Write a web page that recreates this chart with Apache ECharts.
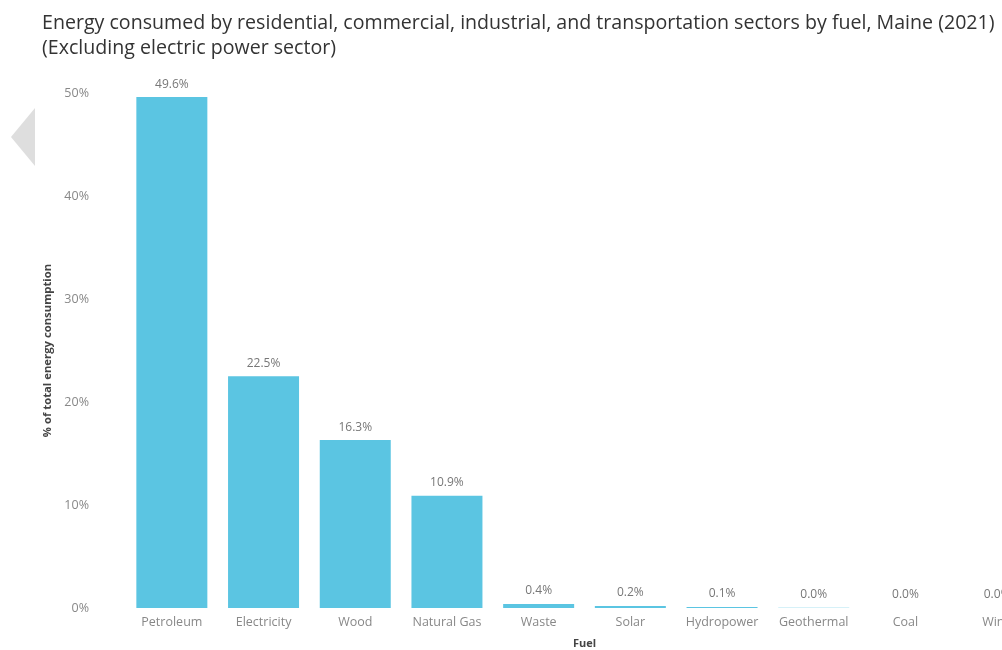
<!DOCTYPE html>
<html>
<head>
<meta charset="utf-8">
<script src="https://cdn.jsdelivr.net/npm/echarts@6/dist/echarts.min.js"></script>
<style>
  html, body { margin: 0; padding: 0; background: #fff; overflow: hidden; }
  #chart { width: 1100px; height: 650px; }
</style>
</head>
<body>
<div id="chart"></div>
<script>
// Fuel categories, share of total energy consumption (%)
const fuels = ['Petroleum', 'Electricity', 'Wood', 'Natural Gas', 'Waste', 'Solar', 'Hydropower', 'Geothermal', 'Coal', 'Wind'];
const shares = [49.6, 22.5, 16.3, 10.9, 0.4, 0.2, 0.1, 0.03, 0, 0];
const yTicks = [0, 10, 20, 30, 40, 50];

const titleLines = [
  'Energy consumed by residential, commercial, industrial, and transportation sectors by fuel, Maine (2021)',
  '(Excluding electric power sector)'
];

const chart = echarts.init(document.getElementById('chart'), null, { renderer: 'canvas' });
chart.setOption({
  animation: false,
  backgroundColor: '#ffffff',
  textStyle: { fontFamily: 'Open Sans' },
  title: {
    text: titleLines.join('\n'),
    left: 37,
    top: 6,
    textStyle: { fontFamily: 'Open Sans', fontSize: 19.6, fontWeight: 'normal', color: '#333', lineHeight: 25 }
  },
  graphic: [{
    type: 'polygon',
    shape: { points: [[11, 137], [35, 108], [35, 166]] },
    style: { fill: '#dedede' },
    z: 0
  }],
  grid: { left: 126, right: 57, top: 93, bottom: 42, containLabel: false, outerBoundsMode: 'none' },
  xAxis: {
    type: 'category',
    data: fuels,
    name: 'Fuel',
    nameLocation: 'middle',
    nameGap: 30,
    nameTextStyle: { fontFamily: 'Open Sans', fontSize: 11, fontWeight: 'bold', color: '#444' },
    axisLine: { show: false },
    axisTick: { show: false },
    axisLabel: { color: '#888', fontSize: 12.5, margin: 8, interval: 0 }
  },
  yAxis: {
    type: 'value',
    min: 0,
    max: 50,
    interval: 10,
    name: '% of total energy consumption',
    nameLocation: 'middle',
    nameGap: 70,
    nameRotate: 90,
    nameTextStyle: { fontFamily: 'Open Sans', fontSize: 11.3, fontWeight: 'bold', color: '#444' },
    axisLine: { show: false },
    axisTick: { show: false },
    splitLine: { show: false },
    axisLabel: {
      color: '#888', fontSize: 12.5, margin: 37,
      formatter: v => (yTicks.indexOf(v) >= 0 ? v + '%' : '')
    }
  },
  series: [{
    type: 'bar',
    data: shares,
    barWidth: 71,
    itemStyle: { color: '#5bc5e2' },
    label: {
      show: true,
      position: 'top',
      distance: 7,
      color: '#777',
      fontSize: 12,
      formatter: p => p.value.toFixed(1) + '%'
    }
  }]
});
</script>
</body>
</html>
